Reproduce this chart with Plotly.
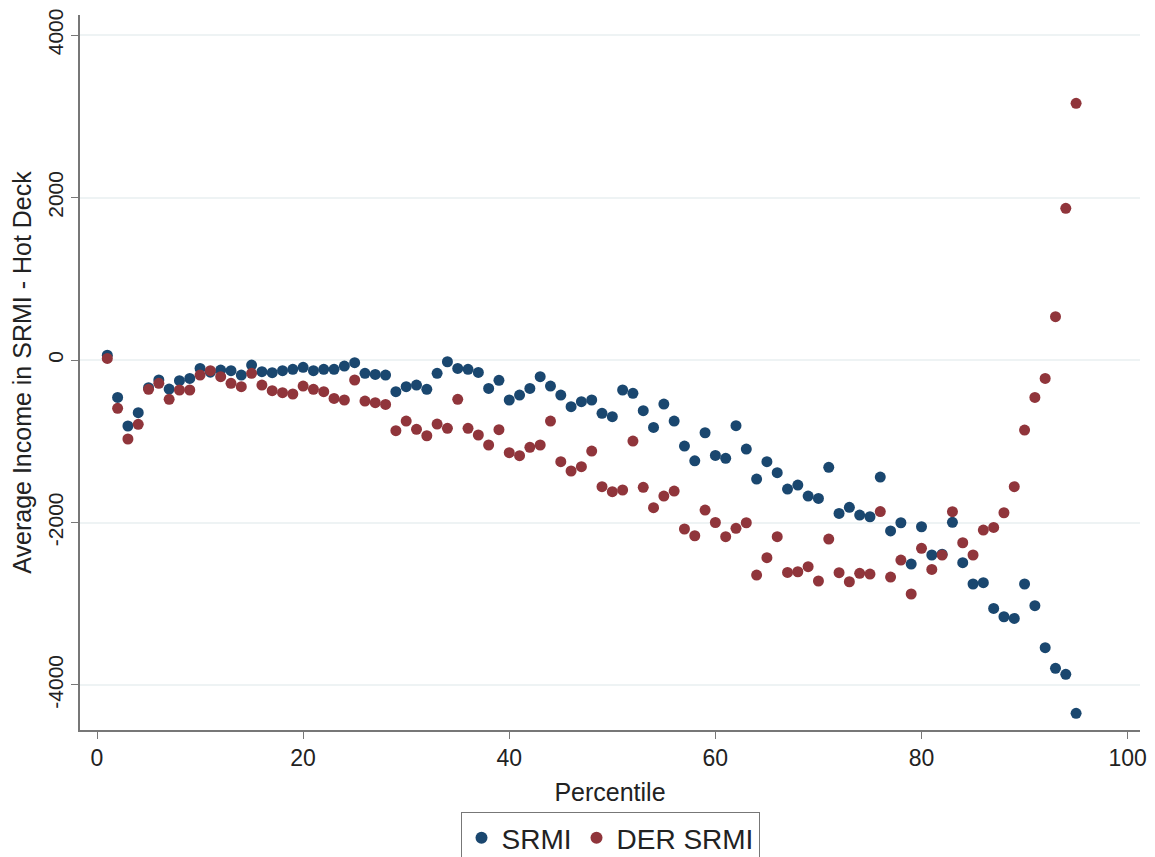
import plotly.graph_objects as go

percentile = list(range(1, 96))

srmi = [60, -460, -812, -648, -340, -246, -357, -254, -226, -103,
        -150, -123, -131, -185, -62, -144, -156, -131, -115, -90,
        -131, -115, -115, -74, -33, -164, -177, -185, -390, -328,
        -308, -361, -164, -21, -103, -115, -152, -349, -250, -492,
        -431, -349, -205, -320, -431, -574, -513, -492, -656, -697,
        -369, -410, -624, -829, -542, -751, -1059, -1241, -895, -1174,
        -1210, -808, -1096, -1465, -1251, -1387, -1588, -1539, -1674, -1703,
        -1321, -1888, -1813, -1908, -1929, -1440, -2103, -2003, -2511, -2052,
        -2400, -2390, -1998, -2495, -2757, -2741, -3057, -3160, -3180, -2757,
        -3024, -3541, -3795, -3869, -4349]

der_srmi = [20, -595, -972, -792, -360, -287, -484, -369, -369, -185,
            -131, -205, -287, -328, -164, -308, -377, -402, -418, -320,
            -361, -390, -472, -492, -246, -505, -525, -546, -870, -751,
            -853, -932, -788, -841, -484, -841, -923, -1046, -858, -1141,
            -1178, -1075, -1046, -751, -1251, -1366, -1313, -1120, -1559, -1621,
            -1600, -997, -1567, -1818, -1674, -1613, -2080, -2163, -1847, -2000,
            -2175, -2072, -2003, -2647, -2433, -2175, -2615, -2606, -2544, -2720,
            -2204, -2618, -2729, -2626, -2634, -1865, -2672, -2462, -2880, -2318,
            -2577, -2400, -1867, -2249, -2400, -2093, -2060, -1880, -1559, -862,
            -460, -226, 533, 1867, 3160]

x_ticks = [0, 20, 40, 60, 80, 100]
y_ticks = [-4000, -2000, 0, 2000, 4000]

navy = "#1a476f"
maroon = "#90353b"

fig = go.Figure()
fig.add_trace(go.Scatter(x=percentile, y=srmi, mode="markers", name="SRMI",
                         marker=dict(color=navy, size=11, line=dict(width=0))))
fig.add_trace(go.Scatter(x=percentile, y=der_srmi, mode="markers", name="DER SRMI",
                         marker=dict(color=maroon, size=11, line=dict(width=0))))

font_family = "Liberation Sans, Arial, sans-serif"

fig.update_layout(
    width=1147, height=849,
    margin=dict(l=72, r=15, t=7, b=127),
    paper_bgcolor="white", plot_bgcolor="white",
    font=dict(family=font_family, size=22, color="#222222"),
    showlegend=True,
    legend=dict(orientation="h", x=0.5, xanchor="center", xref="paper",
                y=0.053, yanchor="top", yref="container",
                bordercolor="#777777", borderwidth=1, bgcolor="white",
                font=dict(size=28, color="#222222"), itemsizing="constant",
                traceorder="normal"),
    xaxis=dict(range=[-1.65, 101.2], tickvals=x_ticks, ticktext=[str(v) for v in x_ticks],
               ticks="outside", ticklen=7, automargin=False, ticklabeloverflow="allow",
               tickcolor="#777777", showline=True, linecolor="#777777", linewidth=1.5,
               showgrid=False, zeroline=False, mirror=False,
               title=dict(text="Percentile", font=dict(size=25), standoff=13),
               tickfont=dict(size=23)),
    yaxis=dict(range=[-4554, 4247], tickvals=y_ticks, ticktext=[str(v) for v in y_ticks],
               ticks="outside", ticklen=7, automargin=False, ticklabeloverflow="allow",
               tickcolor="#777777", showline=True, linecolor="#777777", linewidth=1.5,
               showgrid=True, gridcolor="#eef3f4", gridwidth=1.5, zeroline=False,
               tickangle=-90, tickfont=dict(size=21),
               title=dict(text="Average Income in SRMI - Hot Deck", font=dict(size=25), standoff=6)),
)

fig.write_html("out.html")
